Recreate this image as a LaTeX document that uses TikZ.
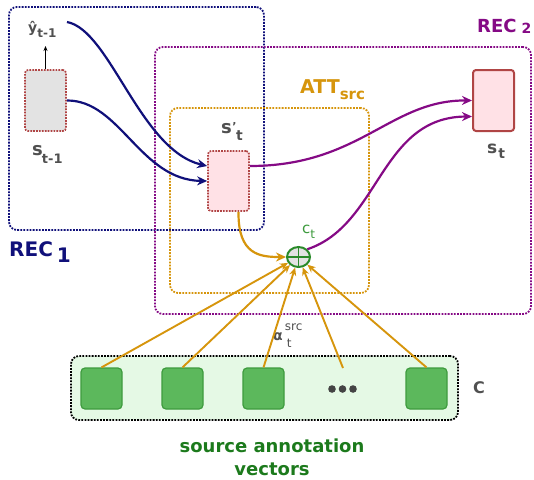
\documentclass[tikz,border=0pt]{standalone}
\usepackage{fontspec}
\setmainfont{DejaVu Sans}
\usetikzlibrary{arrows.meta,shapes.geometric}
\definecolor{navyc}{HTML}{10107A}
\definecolor{purp}{HTML}{850A85}
\definecolor{orng}{HTML}{D6950C}
\definecolor{gtext}{HTML}{505050}
\definecolor{dgreen}{HTML}{1C7A1C}
\definecolor{lgreen}{HTML}{3C9A3C}
\definecolor{sumg}{HTML}{2A8A2A}
\definecolor{boxred}{HTML}{B04545}
\definecolor{pinkf}{HTML}{FFE1E6}
\definecolor{grayf}{HTML}{E3E3E3}
\definecolor{vecf}{HTML}{5CB85C}
\definecolor{vecd}{HTML}{3E9B3E}
\definecolor{cboxf}{HTML}{E5F9E5}
\definecolor{dotc}{HTML}{444444}
\newcommand\myfs[1]{\fontsize{#1}{#1}\selectfont}
\newcommand\lsub[3]{\raisebox{-#1}{\myfs{#2}#3}}
\begin{document}
\begin{tikzpicture}[x=1pt,y=-1pt,
  grp/.style={draw, dash pattern=on 1.8pt off 1.3pt, line width=1.8pt, rounded corners=8pt, inner sep=0pt},
  cell/.style={draw=boxred, fill=pinkf, rounded corners=3pt, minimum width=41pt, minimum height=61pt, inner sep=0pt, line width=1.7pt},
  vec/.style={draw=vecd, fill=vecf, rounded corners=4pt, minimum size=41pt, inner sep=0pt, line width=1.2pt},
  lbl/.style={inner sep=0pt, anchor=base west, text=gtext},
  arr/.style={-{Stealth[length=10pt,width=9pt]}, line width=2.2pt},
  arrs/.style={-{Stealth[length=8pt,width=7pt]}, line width=1.9pt},
]
\useasboundingbox (0,0) rectangle (534,479);

% group frames
\node[grp, draw=black, fill=cboxf, minimum width=387pt, minimum height=64pt] (cbox) at (264.5,388) {};
\node[grp, draw=navyc, minimum width=255pt, minimum height=223pt] (rec1) at (136.5,118.5) {};
\node[grp, draw=purp, minimum width=376pt, minimum height=267pt] (rec2) at (343,180.5) {};
\node[grp, draw=orng, minimum width=199pt, minimum height=185pt] (att) at (269.5,200.5) {};

% cells
\node[cell, fill=grayf, dash pattern=on 1.7pt off 1.2pt] (st1) at (45.5,100.5) {};
\node[cell, dash pattern=on 1.7pt off 1.2pt, minimum height=60pt] (sp) at (228.5,181) {};
\node[cell, line width=2pt] (st) at (493.5,100.5) {};

% sum node
\node[ellipse, draw=sumg, fill=grayf, line width=2pt, minimum width=23pt, minimum height=20pt, inner sep=0pt,
  path picture={\draw[sumg, line width=1.7pt] (path picture bounding box.north) -- (path picture bounding box.south)
     (path picture bounding box.west) -- (path picture bounding box.east);}] (sum) at (298.5,257) {};

% vectors
\node[vec] (v1) at (101.5,388.5) {};
\node[vec] (v2) at (182.5,388.5) {};
\node[vec] (v3) at (263.5,388.5) {};
\node[vec] (v4) at (426.5,388.5) {};
\node[inner sep=0pt, minimum width=28pt, minimum height=8pt] (dots) at (342.5,389) {};
\fill[dotc] (332,389) circle (3.8pt) (342.5,389) circle (3.8pt) (353,389) circle (3.8pt);
\coordinate (dtop) at (343,368);

% labels
\node[lbl, text=navyc, font=\bfseries\myfs{20}] (l1) at (9,256) {REC\kern4pt\lsub{6pt}{20}{1}};
\node[lbl, text=purp, font=\bfseries\myfs{18}] (l2) at (477,32) {REC\kern5pt\lsub{1pt}{14}{2}};
\node[lbl, text=orng, font=\bfseries\myfs{19}] (latt) at (300,93) {ATT\lsub{6pt}{15}{src}};
\node[lbl, font=\bfseries\myfs{14}] (yhat) at (28,32) {ŷ\lsub{5pt}{12}{t-1}};
\node[lbl, font=\bfseries\myfs{18}] (lst1) at (32,155) {s\kern-1pt\lsub{8pt}{13}{t-1}};
\node[lbl, font=\bfseries\myfs{18}] (lsp) at (221,133) {s\kern0.5pt\raisebox{3pt}{\myfs{11}'}\kern-0.5pt\lsub{7pt}{14}{t}};
\node[lbl, font=\bfseries\myfs{17}] (lst) at (487,153) {s\kern1pt\lsub{5pt}{14}{t}};
\node[lbl, text=lgreen, font=\myfs{15}] (lct) at (302,233) {c\lsub{5pt}{12}{t}};
\node[lbl, font=\bfseries\myfs{14}] (lalpha) at (273,340) {α\kern2pt\rlap{\raisebox{10pt}{\myfs{12}\mdseries src}}\kern2pt\raisebox{-7pt}{\myfs{12}\mdseries t}};
\node[lbl, font=\bfseries\myfs{16}] (lC) at (473,393) {C};
\node[inner sep=0pt, anchor=base, text=dgreen, font=\bfseries\myfs{18}] (src1) at (272,452) {source annotation};
\node[inner sep=0pt, anchor=base, text=dgreen, font=\bfseries\myfs{18}] (src2) at (272,475) {vectors};

% connectors
\coordinate (yin) at (45.5,46);
\coordinate (yout) at (67,22);
\draw[-{Stealth[length=5pt,width=4pt]}, line width=0.9pt] (st1.north) -- (yin);
\draw[arr, navyc] (yout) .. controls (110,30) and (140,150) .. ([yshift=15pt]sp.west);
\draw[arr, navyc] (st1.east) .. controls (120,100) and (140,180) .. (sp.west);
\draw[arr, purp] ([yshift=15pt]sp.east) .. controls (360,166) and (390,100) .. (st.west);
\draw[arr, purp] (sum.north east) .. controls (380,225) and (380,117) .. ([yshift=-16pt]st.west);
\draw[arr, orng] ([xshift=10pt]sp.south) .. controls (238,255) and (260,257) .. (sum.west);
\draw[arrs, orng] (v1.north) -- (sum);
\draw[arrs, orng] (v2.north) -- (sum);
\draw[arrs, orng] (v3.north) -- (sum);
\draw[arrs, orng] (dtop) -- (sum);
\draw[arrs, orng] (v4.north) -- (sum);
\end{tikzpicture}
\end{document}
